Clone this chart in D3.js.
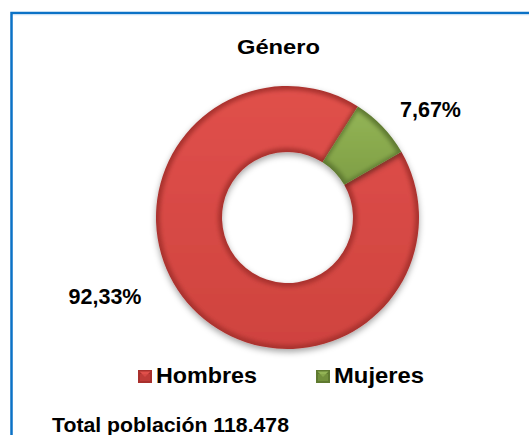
<!DOCTYPE html>
<html>
<head>
<meta charset="utf-8">
<script src="https://cdn.jsdelivr.net/npm/d3@7"></script>
<style>
  html, body { margin: 0; padding: 0; background: #fff; }
  svg { display: block; font-family: Arial, "Liberation Sans", sans-serif; font-weight: bold; }
</style>
</head>
<body>
<div id="main"></div>
<script>
const categories = ['Hombres', 'Mujeres'];
const values = [92.33, 7.67];
const valueLabels = ['92,33%', '7,67%'];
const chartTitle = 'Género';
const footNote = 'Total población 118.478';

const WIDTH = 529;
const HEIGHT = 435;
const CX = 287.5;
const CY = 217.5;
const OUTER = 131.5;
const INNER = 65.5;
const START = 60 * Math.PI / 180;

// light / dark tones per slice
const tones = {
    Hombres: { light: '#e0504b', base: '#cf433f', dark: '#a9302d' },
    Mujeres: { light: '#93b456', base: '#7f9f45', dark: '#5f7a30' }
};
// where excel put the data labels, relative to the donut centre
const labelOffsets = { Hombres: [-182.5, 86.5], Mujeres: [143, -100.5] };
// the picture was stretched sideways a bit, so the wide texts get a length
const legendLengths = { Hombres: 101, Mujeres: 90 };

const svg = d3.select('#main').append('svg')
    .attr('width', WIDTH)
    .attr('height', HEIGHT);

const defs = svg.append('defs');
const shadow = defs.append('filter').attr('id', 'shadow')
    .attr('x', '-20%').attr('y', '-20%').attr('width', '140%').attr('height', '140%');
shadow.append('feDropShadow')
    .attr('dx', 0).attr('dy', 3).attr('stdDeviation', 3)
    .attr('flood-color', '#000').attr('flood-opacity', 0.35);
const bevelBlur = defs.append('filter').attr('id', 'bevel');
bevelBlur.append('feGaussianBlur').attr('stdDeviation', 2.2);

categories.forEach((c) => {
    const g = defs.append('linearGradient').attr('id', 'grad-' + c)
        .attr('x1', 0).attr('y1', 0).attr('x2', 0).attr('y2', 1);
    g.append('stop').attr('offset', '0%').attr('stop-color', tones[c].light);
    g.append('stop').attr('offset', '100%').attr('stop-color', tones[c].base);
});

// frame
svg.append('rect')
    .attr('x', 11.5)
    .attr('y', 13)
    .attr('width', WIDTH + 20)
    .attr('height', HEIGHT + 20)
    .attr('fill', 'none')
    .attr('stroke', '#0b72c6')
    .attr('stroke-width', 2.5);
svg.append('line')
    .attr('x1', 13).attr('x2', WIDTH).attr('y1', 14.8).attr('y2', 14.8)
    .attr('stroke', '#cfe3f5').attr('stroke-width', 1);

svg.append('text')
    .attr('x', 237)
    .attr('y', 54)
    .attr('font-size', 21)
    .attr('textLength', 83)
    .attr('lengthAdjust', 'spacingAndGlyphs')
    .text(chartTitle);

const pieData = d3.pie().sort(null).value((d) => d.value)
    .startAngle(START).endAngle(START + 2 * Math.PI)(
        categories.map((c, i) => ({ category: c, value: values[i], label: valueLabels[i] }))
    );

const arcOuter = d3.arc().innerRadius(INNER).outerRadius(OUTER);
const arcBevel = d3.arc().innerRadius(INNER + 4).outerRadius(OUTER - 4).padAngle(0.025);

const donut = svg.append('g').attr('transform', `translate(${CX},${CY})`);
const slices = donut.selectAll('g.slice').data(pieData).enter().append('g').attr('class', 'slice');
slices.append('path')
    .attr('d', arcOuter)
    .attr('fill', (d) => tones[d.data.category].dark)
    .attr('filter', 'url(#shadow)');
slices.append('path')
    .attr('d', arcBevel)
    .attr('fill', (d) => `url(#grad-${d.data.category})`)
    .attr('filter', 'url(#bevel)');

svg.selectAll('text.value').data(pieData).enter().append('text')
    .attr('class', 'value')
    .attr('x', (d) => CX + labelOffsets[d.data.category][0])
    .attr('y', (d) => CY + labelOffsets[d.data.category][1])
    .attr('text-anchor', 'middle')
    .attr('font-size', 21.5)
    .text((d) => d.data.label);

// legend
const legendX = d3.scalePoint().domain(categories).range([138, 316]);
const legend = svg.selectAll('g.legend').data(categories).enter().append('g')
    .attr('class', 'legend')
    .attr('transform', (d) => `translate(${legendX(d)},370)`);
legend.append('rect')
    .attr('width', 14).attr('height', 13)
    .attr('fill', (d) => tones[d].dark);
legend.append('path')
    .attr('d', 'M1.5,1.5 L12.5,1.5 L7,7 Z')
    .attr('fill', (d) => tones[d].light);
legend.append('rect')
    .attr('x', 2).attr('y', 4).attr('width', 10).attr('height', 7)
    .attr('fill', (d) => tones[d].base).attr('opacity', 0.6);
legend.append('text')
    .attr('x', 18)
    .attr('y', 13)
    .attr('font-size', 21.5)
    .attr('textLength', (d) => legendLengths[d])
    .attr('lengthAdjust', 'spacingAndGlyphs')
    .text((d) => d);

svg.append('text')
    .attr('x', 52)
    .attr('y', 432)
    .attr('font-size', 21)
    .attr('textLength', 237)
    .attr('lengthAdjust', 'spacingAndGlyphs')
    .text(footNote);
</script>
</body>
</html>
